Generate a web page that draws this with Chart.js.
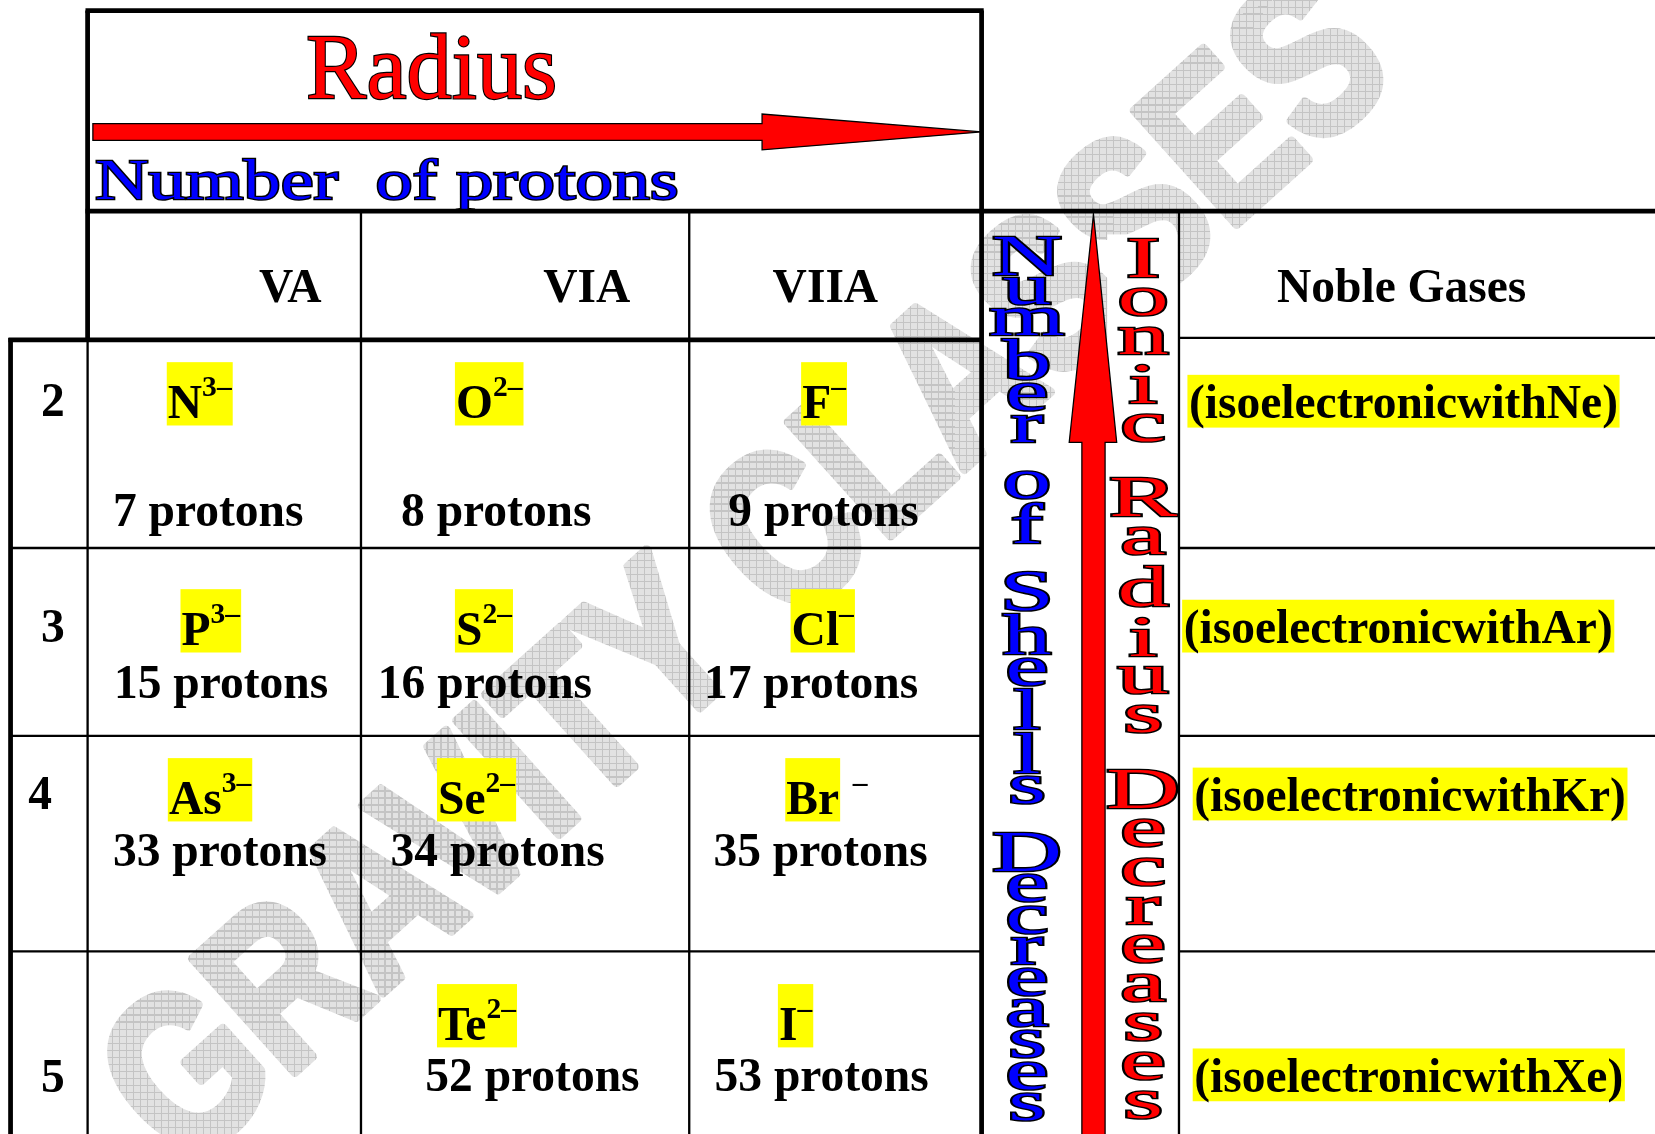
<!DOCTYPE html>
<html>
<head>
<meta charset="utf-8">
<script src="https://cdn.jsdelivr.net/npm/chart.js"></script>
<style>
  html, body { margin: 0; padding: 0; background: #fff; }
</style>
</head>
<body>
<div style="width:1655px;height:1134px"><canvas id="ion-table" width="1655" height="1134"></canvas></div>
<script>
// table content
const groups = ['VA', 'VIA', 'VIIA'];
const periods = ['2', '3', '4', '5'];
const ionSymbols = [['N', 'O', 'F'], ['P', 'S', 'Cl'], ['As', 'Se', 'Br'], ['', 'Te', 'I']];
const ionCharges = [['3–', '2–', '–'], ['3–', '2–', '–'], ['3–', '2–', ' –'], ['', '2–', '–']];
const protonCounts = [[7, 8, 9], [15, 16, 17], [33, 34, 35], [null, 52, 53]];
const nobleGases = ['Ne', 'Ar', 'Kr', 'Xe'];

// layout, in units of the 1568 x 1074 grid the scales run over
const colEdges = [83, 342, 653, 930];
const rowEdges = [322, 519, 697, 901, 1074];
const headerX = [275, 556, 782];
const periodX = [50, 50, 38, 50];
const periodY = [378, 592, 750, 1018];
const ionLeft = [[159, 432, 760], [172, 432, 750], [160, 415, 745], [0, 415, 738]];
const ionY = [373, 588, 748, 962];
const protonLeft = [[107, 380, 690], [108, 358, 667], [107, 370, 676], [0, 403, 677]];
const protonY = [483, 646, 805, 1018];
const nobleLeft = [1125, 1120, 1130, 1130];
const nobleY = [380, 593, 752, 1018];

const SERIF = '"Liberation Serif", "Times New Roman", serif';

function makeGrid(ctx) {
  const tile = document.createElement('canvas');
  tile.width = 7; tile.height = 7;
  const t = tile.getContext('2d');
  t.fillStyle = '#e2e2e2';
  t.fillRect(0, 0, 7, 7);
  t.fillStyle = '#c4c4c4';
  t.fillRect(0, 0, 7, 1);
  t.fillRect(0, 0, 1, 7);
  return ctx.createPattern(tile, 'repeat');
}

const tablePlugin = {
  id: 'ionTable',
  beforeDraw(chart) {
    const ctx = chart.ctx;
    const X = v => chart.scales.x.getPixelForValue(v);
    const Y = v => chart.scales.y.getPixelForValue(v);
    const S = v => v * (X(1568) - X(0)) / 1568;

    ctx.save();
    ctx.fillStyle = '#fff';
    ctx.fillRect(0, 0, chart.width, chart.height);

    // watermark
    ctx.translate(X(712), Y(548));
    ctx.rotate(-42 * Math.PI / 180);
    ctx.font = 'bold ' + S(210) + 'px "Liberation Sans", Arial, sans-serif';
    const wm = 'GRAVITY CLASSES';
    const w = ctx.measureText(wm).width;
    ctx.scale(S(1550) / w, 1);
    ctx.textAlign = 'center';
    ctx.textBaseline = 'middle';
    const pat = makeGrid(ctx);
    pat.setTransform(ctx.getTransform().inverse());
    ctx.fillStyle = pat;
    ctx.strokeStyle = pat;
    ctx.lineJoin = 'round';
    ctx.lineWidth = S(9);
    ctx.strokeText(wm, 0, 0);
    ctx.fillText(wm, 0, 0);
    ctx.restore();

    // white text box behind the red letters
    ctx.fillStyle = '#fff';
    ctx.fillRect(X(1049), Y(222), X(1116) - X(1049), Y(1074) - Y(222));
  },
  afterDatasetsDraw(chart) {
    const ctx = chart.ctx;
    const X = v => chart.scales.x.getPixelForValue(v);
    const Y = v => chart.scales.y.getPixelForValue(v);
    const S = v => v * (X(1568) - X(0)) / 1568;
    const bold = px => 'bold ' + S(px) + 'px ' + SERIF;

    ctx.save();
    ctx.textBaseline = 'alphabetic';

    // outlined, horizontally fitted text
    function outlined(str, left, base, font, width, color, lw) {
      ctx.font = font;
      const w = ctx.measureText(str).width;
      ctx.save();
      ctx.translate(X(left), Y(base));
      ctx.scale(S(width) / w, 1);
      ctx.lineWidth = S(lw);
      ctx.strokeStyle = '#000';
      ctx.strokeText(str, 0, 0);
      ctx.fillStyle = color;
      ctx.fillText(str, 0, 0);
      ctx.restore();
    }
    outlined('Radius', 290, 93, S(88) + 'px ' + SERIF, 238, '#ff0000', 2.2);
    outlined('Number  of protons', 90, 188, S(54) + 'px ' + SERIF, 553, '#0000ff', 2.4);

    // horizontal arrow
    ctx.beginPath();
    ctx.moveTo(X(88), Y(117));
    ctx.lineTo(X(722), Y(117));
    ctx.lineTo(X(722), Y(108));
    ctx.lineTo(X(930), Y(125));
    ctx.lineTo(X(722), Y(142));
    ctx.lineTo(X(722), Y(133));
    ctx.lineTo(X(88), Y(133));
    ctx.closePath();
    ctx.fillStyle = '#ff0000';
    ctx.fill();
    ctx.lineWidth = S(1.2);
    ctx.strokeStyle = '#000';
    ctx.stroke();

    // vertical arrow
    ctx.beginPath();
    ctx.moveTo(X(1025), Y(1080));
    ctx.lineTo(X(1025), Y(419));
    ctx.lineTo(X(1013), Y(419));
    ctx.lineTo(X(1036), Y(203));
    ctx.lineTo(X(1058), Y(419));
    ctx.lineTo(X(1047), Y(419));
    ctx.lineTo(X(1047), Y(1080));
    ctx.closePath();
    ctx.fillStyle = '#ff0000';
    ctx.fill();
    ctx.stroke();

    // stacked letters
    function stack(str, cx, top, bottom, sx, color) {
      ctx.font = S(54) + 'px ' + SERIF;
      const spaceH = S(24);
      const items = [...str].map(ch => {
        if (ch === ' ') return null;
        const m = ctx.measureText(ch);
        return { ch, asc: m.actualBoundingBoxAscent, desc: m.actualBoundingBoxDescent };
      });
      const letters = items.filter(i => i);
      const glyphs = letters.reduce((a, i) => a + i.asc + i.desc, 0);
      const spaces = items.length - letters.length;
      const gap = (Y(bottom) - Y(top) - glyphs - spaces * spaceH) / (letters.length - 1);
      let y = Y(top);
      ctx.textAlign = 'center';
      items.forEach(it => {
        if (!it) { y += spaceH; return; }
        const base = y + it.asc;
        ctx.save();
        ctx.translate(X(cx), base);
        ctx.scale(sx, 1);
        ctx.lineWidth = S(2.6);
        ctx.strokeStyle = '#000';
        ctx.strokeText(it.ch, 0, 0);
        ctx.fillStyle = color;
        ctx.fillText(it.ch, 0, 0);
        ctx.restore();
        y = base + it.desc + gap;
      });
      ctx.textAlign = 'left';
    }
    stack('Number of Shells Decreases', 973, 224, 1062, 1.7, '#0000ff');
    stack('Ionic Radius Decreases', 1083, 226, 1060, 1.8, '#ff0000');

    // headers
    ctx.fillStyle = '#000';
    ctx.font = bold(45);
    ctx.textAlign = 'center';
    groups.forEach((g, i) => ctx.fillText(g, X(headerX[i]), Y(286)));
    ctx.fillText('Noble Gases', X(1328), Y(286));
    periods.forEach((p, i) => ctx.fillText(p, X(periodX[i]), Y(periodY[i] + 16)));
    ctx.textAlign = 'left';

    // ions and proton counts
    ionSymbols.forEach((row, r) => {
      row.forEach((sym, c) => {
        if (!sym) return;
        const charge = ionCharges[r][c];
        const detached = charge.startsWith(' ');
        const left = X(ionLeft[r][c]);
        const base = Y(ionY[r] + 23);
        ctx.font = bold(45);
        const w1 = ctx.measureText(sym).width;
        ctx.font = bold(28);
        const w2 = ctx.measureText(charge.trim()).width;
        const boxR = detached ? left + w1 + S(1) : left + w1 + w2 + S(1);
        ctx.fillStyle = '#ffff00';
        ctx.fillRect(left - S(1), Y(ionY[r] - 30), boxR - left + S(1), S(60));
        ctx.fillStyle = '#000';
        ctx.font = bold(45);
        ctx.fillText(sym, left, base);
        ctx.font = bold(28);
        ctx.fillText(charge.trim(), left + w1 + (detached ? S(13) : 0), base - S(21));
        ctx.font = bold(45);
        ctx.fillText(protonCounts[r][c] + ' protons', X(protonLeft[r][c]), Y(protonY[r] + 15));
      });
    });

    // noble gas column
    nobleGases.forEach((g, i) => {
      const txt = '(isoelectronicwith' + g + ')';
      ctx.font = bold(45);
      const tw = ctx.measureText(txt).width;
      const left = X(nobleLeft[i]);
      ctx.fillStyle = '#ffff00';
      ctx.fillRect(left, Y(nobleY[i] - 25), tw + S(3), S(50));
      ctx.fillStyle = '#000';
      ctx.fillText(txt, left + S(1.5), Y(nobleY[i] + 16));
    });

    // grid lines
    function line(x1, y1, x2, y2, lw) {
      ctx.beginPath();
      ctx.moveTo(X(x1), Y(y1));
      ctx.lineTo(X(x2), Y(y2));
      ctx.lineWidth = S(lw);
      ctx.strokeStyle = '#000';
      ctx.stroke();
    }
    const thick = 4.5, thin = 2.2;
    line(colEdges[0] - 2, 10, colEdges[3] + 2, 10, thick);
    line(colEdges[0], 10, colEdges[0], rowEdges[0], thick);
    line(colEdges[3], 10, colEdges[3], 1074, thick);
    line(colEdges[0] - 2, 200, 1568, 200, thick);
    line(8, rowEdges[0], colEdges[3], rowEdges[0], thick);
    line(10, rowEdges[0] - 2, 10, 1074, thick);
    line(colEdges[0], rowEdges[0], colEdges[0], 1074, thin);
    line(colEdges[1], 200, colEdges[1], 1074, thin);
    line(colEdges[2], 200, colEdges[2], 1074, thin);
    line(1117, 200, 1117, 1074, thin);
    line(1117, 320, 1568, 320, thin);
    rowEdges.slice(1, 4).forEach(y => {
      line(10, y, colEdges[3], y, thin);
      line(1117, y, 1568, y, thin);
    });

    ctx.restore();
  }
};

const ctx = document.getElementById('ion-table').getContext('2d');
const myChart = new Chart(ctx, {
  type: 'scatter',
  data: { datasets: [{ data: [], pointRadius: 0 }] },
  options: {
    responsive: false,
    animation: false,
    events: [],
    layout: { padding: 0 },
    plugins: { legend: { display: false }, tooltip: { enabled: false } },
    scales: {
      x: { type: 'linear', min: 0, max: 1568, display: false },
      y: { type: 'linear', min: 0, max: 1074, reverse: true, display: false }
    }
  },
  plugins: [tablePlugin]
});
</script>
</body>
</html>
